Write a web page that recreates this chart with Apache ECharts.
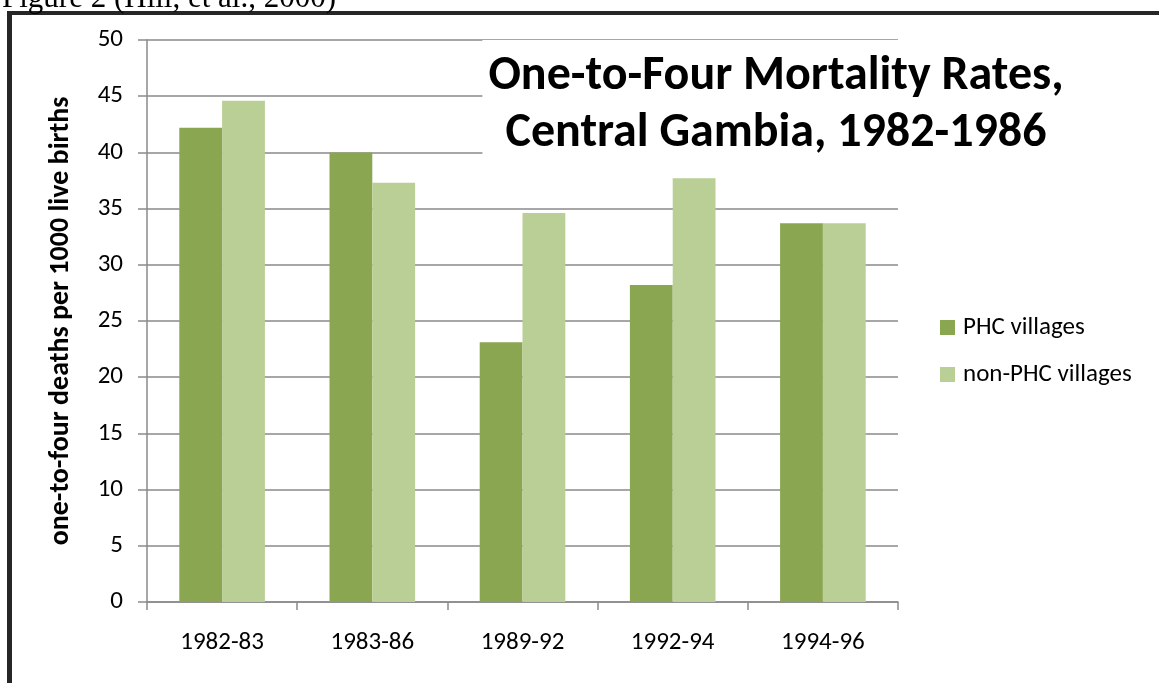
<!DOCTYPE html>
<html>
<head>
<meta charset="utf-8">
<script src="https://cdn.jsdelivr.net/npm/echarts@6/dist/echarts.min.js"></script>
<style>
html,body{margin:0;padding:0;background:#fff;}
#chart{width:1159px;height:683px;}
</style>
</head>
<body>
<div id="chart"></div>
<script>
const categories = ['1982-83', '1983-86', '1989-92', '1992-94', '1994-96'];
const phcValues = [42.2, 40.0, 23.1, 28.2, 33.7];
const nonPhcValues = [44.6, 37.3, 34.6, 37.7, 33.7];
const seriesNames = ['PHC villages', 'non-PHC villages'];
const yMin = 0, yMax = 50, yStep = 5;
const titleText = 'One-to-Four Mortality Rates,\nCentral Gambia, 1982-1986';
const yAxisTitle = 'one-to-four deaths per 1000 live births';
const captionText = 'Figure 2 (Hill, et al., 2000)';

const FONT = 'Carlito, Lato, sans-serif';
const gridColor = '#8a8a8a';

const chart = echarts.init(document.getElementById('chart'), null, {renderer: 'canvas'});
chart.setOption({
  backgroundColor: '#ffffff',
  animation: false,
  title: {
    text: titleText,
    left: 770,
    top: 40,
    textAlign: 'center',
    padding: [8, 6, 8, 6],
    backgroundColor: '#ffffff',
    textStyle: {fontFamily: FONT, fontSize: 48, fontWeight: 'bold', color: '#000', lineHeight: 57}
  },
  legend: {
    orient: 'vertical',
    left: 940,
    top: 314,
    padding: 0,
    itemWidth: 15,
    itemHeight: 15,
    itemGap: 20,
    icon: 'rect',
    data: seriesNames,
    textStyle: {fontFamily: FONT, fontSize: 25, color: '#000', lineHeight: 27, padding: [0, 0, 0, 3]}
  },
  grid: {left: 147, right: 261, top: 40, bottom: 81, containLabel: false},
  xAxis: {
    type: 'category',
    data: categories,
    axisLine: {show: true, lineStyle: {color: gridColor, width: 1.5}},
    axisTick: {show: true, length: 8, lineStyle: {color: gridColor, width: 1.5}},
    axisLabel: {fontFamily: FONT, fontSize: 25, color: '#000', margin: 28}
  },
  yAxis: {
    type: 'value',
    min: yMin, max: yMax, interval: yStep,
    name: yAxisTitle,
    nameLocation: 'middle',
    nameGap: 72,
    nameTextStyle: {fontFamily: FONT, fontSize: 28, fontWeight: 'bold', color: '#000'},
    axisLine: {show: true, lineStyle: {color: gridColor, width: 1.5}},
    axisTick: {show: true, length: 9, lineStyle: {color: gridColor, width: 1.5}},
    axisLabel: {fontFamily: FONT, fontSize: 25, color: '#000', margin: 24},
    splitLine: {show: true, lineStyle: {color: gridColor, width: 1.5}}
  },
  series: [
    {name: seriesNames[0], type: 'bar', data: phcValues, barGap: '0%', barCategoryGap: '43%',
     itemStyle: {color: '#8aa650'}},
    {name: seriesNames[1], type: 'bar', data: nonPhcValues, barGap: '0%', barCategoryGap: '43%',
     itemStyle: {color: '#bacf96'}}
  ],
  graphic: [
    {type: 'rect', shape: {x: 7, y: 11, width: 1152, height: 4}, style: {fill: '#262626'}, z: 100},
    {type: 'rect', shape: {x: 7, y: 11, width: 5, height: 672}, style: {fill: '#262626'}, z: 100},
    {type: 'text', x: 2, y: -1, style: {text: captionText, fill: '#000', font: '31px "Liberation Serif", serif', verticalAlign: 'middle'}, z: 100}
  ]
});
</script>
</body>
</html>
